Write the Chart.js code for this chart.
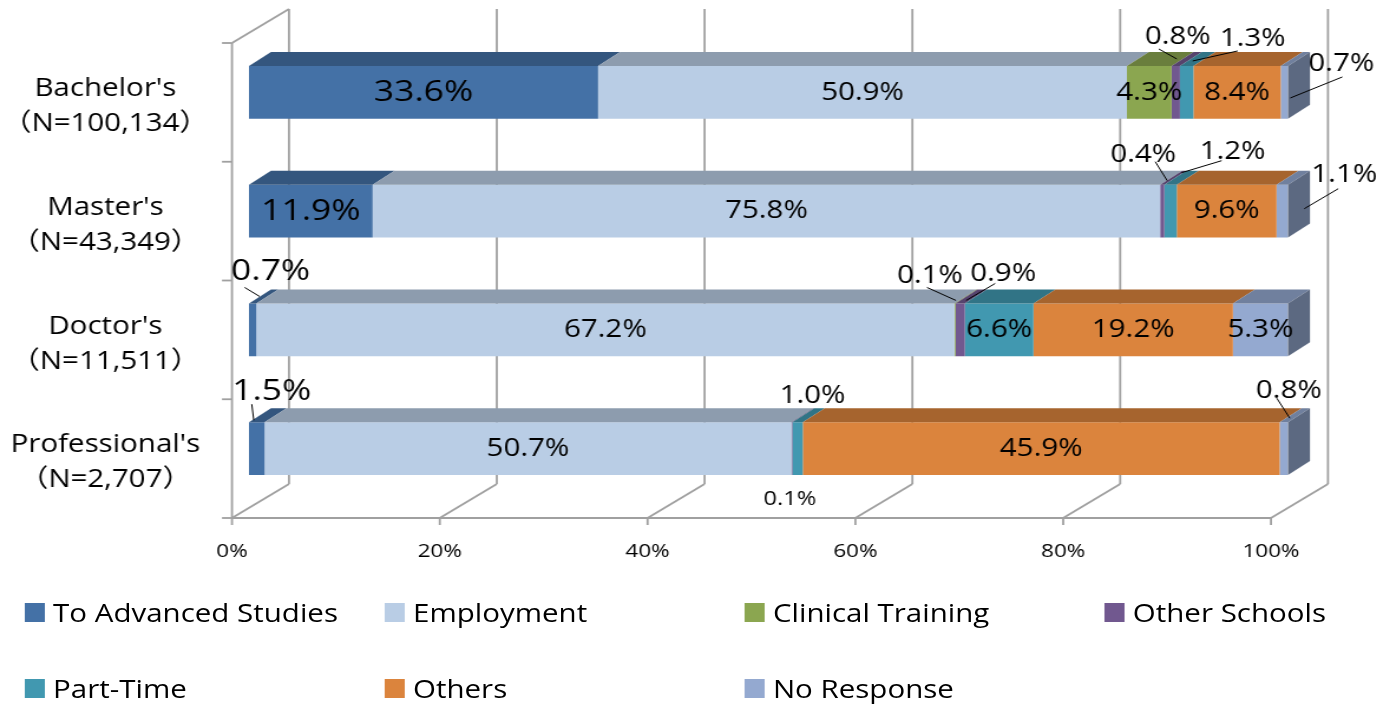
<!DOCTYPE html>
<html>
<head>
<meta charset="utf-8">
<script src="https://cdn.jsdelivr.net/npm/chart.js@4.4.0/dist/chart.umd.min.js"></script>
<style>
html, body { margin: 0; padding: 0; background: #fff; overflow: hidden; }
#wrap { position: absolute; left: 0; top: 0; width: 1178px; height: 706px; transform: scaleX(1.18); transform-origin: 0 0; font-family: 'Open Sans', 'Noto Sans CJK JP', sans-serif; }
#box { position: absolute; left: 0; top: 0; width: 1178px; height: 580px; }
#legend { position: absolute; left: 21px; top: 596px; display: grid; grid-template-columns: repeat(4, 305px); row-gap: 44px; }
.item { display: flex; align-items: center; height: 32px; font-size: 25px; color: #000; white-space: nowrap; }
.sw { display: inline-block; width: 17px; height: 19px; margin-right: 7px; }
</style>
</head>
<body>
<div id="wrap">
  <div id="box"><canvas id="chart"></canvas></div>
  <div id="legend"></div>
</div>
<script>
const S = 1.18; // the whole figure is stretched sideways by this much

const categories = [
    ["Bachelor's", '（N=100,134）'],
    ["Master's", '（N=43,349）'],
    ["Doctor's", '（N=11,511）'],
    ["Professional's", '（N=2,707）']
];
const seriesNames = ['To Advanced Studies', 'Employment', 'Clinical Training', 'Other Schools', 'Part-Time', 'Others', 'No Response'];
const advanced = [33.6, 11.9, 0.7, 1.5];
const employment = [50.9, 75.8, 67.2, 50.7];
const clinical = [4.3, 0, 0.1, 0];
const otherSchools = [0.8, 0.4, 0.9, 0.1];
const partTime = [1.3, 1.2, 6.6, 1.0];
const others = [8.4, 9.6, 19.2, 45.9];
const noResponse = [0.7, 1.1, 5.3, 0.8];
const xTicks = [0, 20, 40, 60, 80, 100];

const colors = ['#4471a6', '#b9cde5', '#8ba650', '#71588f', '#4198b0', '#db843d', '#94a9d0'];

// thin segments get their label outside: text and leader offsets in screen px from the segment's top-front centre
const callouts = {
    '0-3': { text: [2, -29], line: [[-17, -17], [1, -7]] },
    '0-4': { text: [66, -27], line: [[51, -15], [6, -5]] },
    '0-6': { text: [57, -2], line: [[58, 11], [6, 32]] },
    '1-3': { text: [-19, -30], line: [[-7, -23], [5, -4]] },
    '1-4': { text: [62, -33], line: [[51, -24], [11, -12]] },
    '1-6': { text: [62, -10], line: [[56, 4], [22, 24]] },
    '2-0': { text: [18, -32], line: [[-8, -16], [7, -7]] },
    '2-2': { text: [-25, -28], line: [[-28, -16], [1, -3]] },
    '2-3': { text: [43, -30], line: [[35, -20], [6, -3]] },
    '3-0': { text: [15, -31], line: [[-5, -18], [-3, -2]] },
    '3-3': { text: [-2, 77], size: 20 },
    '3-4': { text: [15, -26] },
    '3-6': { text: [5, -31], line: [[-7, -24], [6, -4]] }
};

const DX = 22 / S, DY = -14;   // bar depth
const FX = -17 / S, FY = 10;   // front edge of the floor, relative to bar faces
const BX = 40 / S, BY = -24;   // back wall

function shade(hex, k) {
    const n = parseInt(hex.slice(1), 16);
    return 'rgb(' + Math.round((n >> 16 & 255) * k) + ',' + Math.round((n >> 8 & 255) * k) + ',' + Math.round((n & 255) * k) + ')';
}

const frame3d = {
    id: 'frame3d',
    beforeDatasetsDraw(chart) {
        const { ctx, chartArea: a, scales: { x, y } } = chart;
        const line = (x1, y1, x2, y2) => { ctx.beginPath(); ctx.moveTo(x1, y1); ctx.lineTo(x2, y2); ctx.stroke(); };
        ctx.save();
        ctx.strokeStyle = '#a0a0a0';
        ctx.lineWidth = 1.8;
        xTicks.forEach(v => {
            const p = x.getPixelForValue(v);
            line(p + BX, a.top + BY, p + BX, a.bottom + BY);
            line(p + FX, a.bottom + FY, p + BX, a.bottom + BY);
            line(p + FX, a.bottom + FY, p + FX, a.bottom + FY + 7);
        });
        const x0 = x.getPixelForValue(0), x1 = x.getPixelForValue(100);
        line(x0 + FX, a.bottom + FY, x1 + FX, a.bottom + FY);
        line(x0 + FX, a.top + FY, x0 + FX, a.bottom + FY);
        line(x0 + FX, a.top + FY, x0 + BX, a.top + BY);
        const step = (a.bottom - a.top) / categories.length;
        for (let i = 0; i <= categories.length; i++) {
            const yy = (i < categories.length ? y.getPixelForValue(i) - step / 2 : a.bottom) + FY;
            line(x0 + FX - 10 / S, yy, x0 + FX, yy);
        }
        ctx.restore();
    },
    afterDatasetsDraw(chart) {
        const { ctx } = chart;
        const segs = [];
        ctx.save();
        categories.forEach((c, r) => {
            let last = null;
            chart.data.datasets.forEach((ds, i) => {
                if (!ds.data[r]) return;
                const p = chart.getDatasetMeta(i).data[r].getProps(['x', 'y', 'base', 'height'], true);
                const top = p.y - p.height / 2;
                ctx.fillStyle = shade(ds.backgroundColor, 0.76);
                ctx.beginPath();
                ctx.moveTo(p.base, top);
                ctx.lineTo(p.x, top);
                ctx.lineTo(p.x + DX, top + DY);
                ctx.lineTo(p.base + DX, top + DY);
                ctx.closePath();
                ctx.fill();
                last = { p, top, color: ds.backgroundColor };
                segs.push({ r, i, p, top, value: ds.data[r] });
            });
            if (last) {
                const { p, top } = last;
                ctx.fillStyle = shade(last.color, 0.62);
                ctx.beginPath();
                ctx.moveTo(p.x, top);
                ctx.lineTo(p.x + DX, top + DY);
                ctx.lineTo(p.x + DX, top + p.height + DY);
                ctx.lineTo(p.x, top + p.height);
                ctx.closePath();
                ctx.fill();
            }
        });

        ctx.fillStyle = '#000';
        ctx.strokeStyle = '#000';
        ctx.lineWidth = 1;
        ctx.textAlign = 'center';
        ctx.textBaseline = 'middle';
        segs.forEach(s => {
            const txt = s.value.toFixed(1) + '%';
            const cx = (s.p.base + s.p.x) / 2;
            const c = callouts[s.r + '-' + s.i];
            const size = s.i === 0 ? 30 : 25;
            if (c) {
                ctx.font = (c.size || size) + "px 'Open Sans'";
                ctx.fillText(txt, cx + c.text[0] / S, s.top + c.text[1]);
                if (c.line) {
                    ctx.beginPath();
                    ctx.moveTo(cx + c.line[0][0] / S, s.top + c.line[0][1]);
                    ctx.lineTo(cx + c.line[1][0] / S, s.top + c.line[1][1]);
                    ctx.stroke();
                }
            } else {
                ctx.font = size + "px 'Open Sans'";
                ctx.fillText(txt, cx, s.p.y);
            }
        });
        ctx.restore();
    }
};

Chart.defaults.font.family = "'Open Sans', 'Noto Sans CJK JP', sans-serif";
Chart.defaults.color = '#000';

const seriesData = [advanced, employment, clinical, otherSchools, partTime, others, noResponse];

const chart = new Chart(document.getElementById('chart').getContext('2d'), {
    type: 'bar',
    data: {
        labels: categories,
        datasets: seriesNames.map((name, i) => ({
            label: name,
            data: seriesData[i],
            backgroundColor: colors[i],
            borderWidth: 0,
            categoryPercentage: 1,
            barPercentage: 0.445
        }))
    },
    options: {
        indexAxis: 'y',
        responsive: true,
        maintainAspectRatio: false,
        animation: false,
        layout: { padding: { top: 33, right: 86.5, left: 0, bottom: 0 } },
        plugins: {
            legend: { display: false },
            tooltip: { enabled: false }
        },
        scales: {
            x: {
                stacked: true,
                min: 0,
                max: 100,
                afterBuildTicks: a => { a.ticks = xTicks.map(v => ({ value: v })); },
                afterFit: a => { a.height = 72; a.paddingLeft = 0; a.paddingRight = 0; },
                ticks: {
                    callback: v => v + '%',
                    labelOffset: FX,
                    padding: 32,
                    font: { size: 19 },
                    maxRotation: 0
                },
                grid: { display: false, drawTicks: false },
                border: { display: false }
            },
            y: {
                stacked: true,
                afterFit: a => { a.width = 211; a.paddingTop = 0; a.paddingBottom = 0; },
                ticks: {
                    crossAlign: 'center',
                    labelOffset: 14,
                    padding: 34,
                    font: { size: 25, lineHeight: 1.4 }
                },
                grid: { display: false, drawTicks: false },
                border: { display: false }
            }
        }
    },
    plugins: [frame3d]
});

const legend = document.getElementById('legend');
seriesNames.forEach((name, i) => {
    const item = document.createElement('div');
    item.className = 'item';
    const sw = document.createElement('span');
    sw.className = 'sw';
    sw.style.background = colors[i];
    item.appendChild(sw);
    item.appendChild(document.createTextNode(name));
    legend.appendChild(item);
});
</script>
</body>
</html>
